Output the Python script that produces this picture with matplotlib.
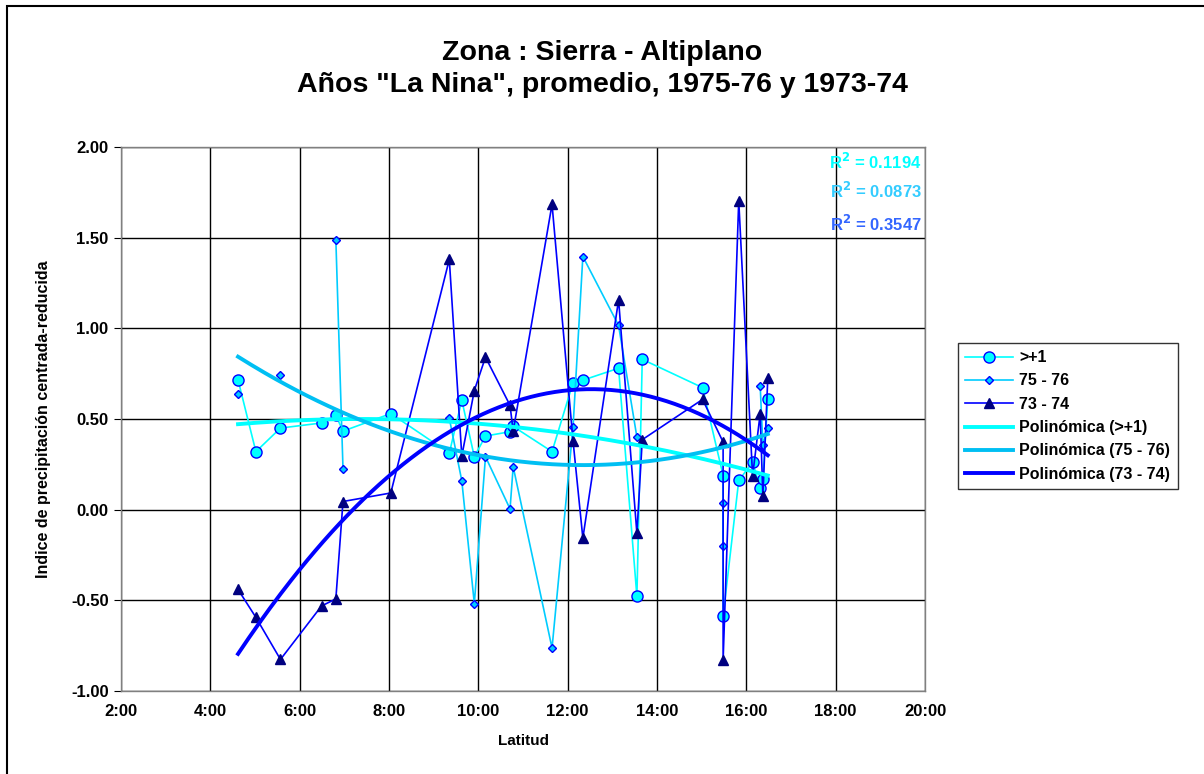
import matplotlib.pyplot as plt
import numpy as np
from matplotlib.patches import Rectangle

plt.rcParams['font.family'] = ['Liberation Sans', 'DejaVu Sans']

# latitud (shared by the three series)
lat = [4.62, 5.02, 5.57, 6.49, 6.81, 6.97, 8.04, 9.35, 9.63, 9.91, 10.16, 10.71,
       10.78, 11.65, 12.12, 12.34, 13.14, 13.55, 13.67, 15.02, 15.48, 15.48,
       15.83, 16.14, 16.31, 16.37, 16.48]

mas1 = [0.716, 0.32, 0.45, 0.478, 0.52, 0.433, 0.53, 0.312, 0.604, 0.292, 0.406,
        0.43, 0.459, 0.32, 0.70, 0.714, 0.78, -0.478, 0.829, 0.673, 0.188, -0.588,
        0.161, 0.261, 0.122, 0.169, 0.608]

nan = np.nan
y7576 = [0.64, nan, 0.745, nan, 1.488, 0.227, nan, 0.504, 0.159, -0.518, 0.292,
         0.004, 0.237, -0.763, 0.455, 1.396, 1.016, 0.40, nan, nan, 0.035, -0.202,
         nan, nan, 0.684, 0.357, 0.451]

y7374 = [-0.44, -0.594, -0.826, -0.531, -0.492, 0.045, 0.092, 1.38, 0.296, 0.657,
         0.841, 0.575, 0.433, 1.684, 0.38, -0.157, 1.157, -0.131, 0.386, 0.608,
         0.373, -0.831, 1.704, 0.186, 0.529, 0.073, 0.724]

names = ['>+1', '75 - 76', '73 - 74']
r2_labels = ['0.1194', '0.0873', '0.3547']

fig = plt.figure(figsize=(12.04, 7.74), dpi=100)
ax = fig.add_axes([121 / 1204, 1 - 691 / 774, (925 - 121) / 1204, (691 - 147) / 774])

x = np.array(lat)
series = [np.array(mas1), np.array(y7576), np.array(y7374)]
line_cols = ['#00FFFF', '#00CCFF', '#0000FF']
face_cols = ['#00FFFF', '#00CCFF', '#000080']
edge_cols = ['#0000FF', '#0000FF', '#000080']
markers = ['o', 'D', '^']
msizes = [8, 4.5, 7]
trend_cols = ['#00FFFF', '#00BFF3', '#0000FF']
r2_cols = ['#00FFFF', '#33CCFF', '#3366FF']

handles = []
for i, y in enumerate(series):
    h, = ax.plot(x, y, color=line_cols[i], lw=1.2, marker=markers[i],
                 markersize=msizes[i], markerfacecolor=face_cols[i],
                 markeredgecolor=edge_cols[i], markeredgewidth=1, zorder=3 + i,
                 label=names[i])
    handles.append(h)

# polynomial (order 2) trend lines
for i, y in enumerate(series):
    ok = ~np.isnan(y)
    c = np.polyfit(x[ok], y[ok], 2)
    xs = np.linspace(x[ok].min(), x[ok].max(), 200)
    h, = ax.plot(xs, np.polyval(c, xs), color=trend_cols[i], lw=2.8, zorder=7,
                 label='Polinómica (' + names[i] + ')')
    handles.append(h)

ypos = [0.972, 0.919, 0.858]
for i in range(3):
    ax.text(0.996, ypos[i], r'R$^{\mathbf{2}}$ = ' + r2_labels[i], transform=ax.transAxes,
            ha='right', va='center', color=r2_cols[i], fontsize=12, fontweight='bold')

ax.set_xlim(2, 20)
ax.set_ylim(-1, 2)
ax.set_xticks(np.arange(2, 21, 2))
ax.set_yticks(np.arange(-1, 2.01, 0.5))
ax.set_xticklabels([f'{int(v)}:00' for v in np.arange(2, 21, 2)])
ax.set_yticklabels([f'{v:.2f}' for v in np.arange(-1, 2.01, 0.5)])
ax.grid(True, color='black', lw=1)
ax.set_axisbelow(True)
ax.tick_params(axis='x', length=0, pad=9, labelsize=12)
ax.tick_params(axis='y', length=5, pad=4, labelsize=12)
for lbl in ax.get_xticklabels() + ax.get_yticklabels():
    lbl.set_fontweight('bold')
for s in ax.spines.values():
    s.set_color('#808080')
    s.set_linewidth(1)

ax.set_xlabel('Latitud', fontsize=11, fontweight='bold', labelpad=11)
ax.set_ylabel('Indice de precipitación centrada-reducida', fontsize=11.5,
              fontweight='bold', labelpad=14)

fig.text(0.5, 1 - 69 / 774, 'Zona : Sierra - Altiplano\nAños "La Nina", promedio, 1975-76 y 1973-74',
         ha='center', va='center', fontsize=20.5, fontweight='bold', linespacing=1.33)

leg = fig.legend(handles=handles, loc='upper left', bbox_to_anchor=(958 / 1204, 1 - 343 / 774),
                 prop={'weight': 'bold', 'size': 11.5}, frameon=True, fancybox=False,
                 handlelength=3, handletextpad=0.4, borderpad=0.45, labelspacing=0.52,
                 borderaxespad=0)
leg.get_frame().set_edgecolor('black')
leg.get_frame().set_linewidth(1)

fig.patches.append(Rectangle((7 / 1204, -0.1), 1.2, 1 - 6 / 774 + 0.1,
                             transform=fig.transFigure, fill=False, ec='black', lw=1.5))

fig.savefig('out.png', dpi=100)
